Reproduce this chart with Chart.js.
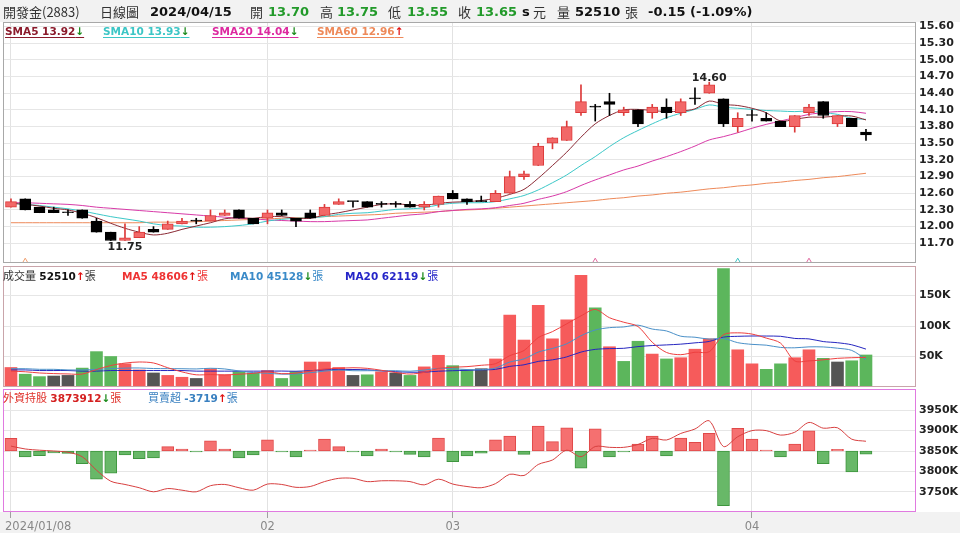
<!DOCTYPE html>
<html lang="zh-Hant">
<head>
<meta charset="utf-8">
<title>開發金(2883) 日線圖</title>
<script src="https://cdn.jsdelivr.net/npm/chart.js@4.4.1/dist/chart.umd.min.js"></script>
<style>
html,body{margin:0;padding:0;}
body{width:960px;height:533px;position:relative;overflow:hidden;background:#fff;font-family:"DejaVu Sans","Noto Sans CJK TC",sans-serif;}
.strip{position:absolute;left:0;width:960px;background:#f2f2f2;}
canvas{position:absolute;left:0;}
.t{position:absolute;white-space:nowrap;line-height:16px;height:16px;}
.cjk{font-family:"Noto Sans CJK TC",sans-serif;font-weight:normal;}
.b{font-weight:bold;font-family:"DejaVu Sans",sans-serif;}
.h{font-size:13px;top:3px;line-height:17px;height:17px;}
.g{color:#229a2a;}
.lg{font-size:10.5px;font-weight:bold;top:23px;text-decoration:underline;text-underline-offset:2px;}
.row{font-size:10.5px;}
.num{font-weight:bold;}
.zh{font-family:"Noto Sans CJK TC",sans-serif;font-size:11px;font-weight:normal;}
.dn{color:#1a8a1a;font-weight:bold;}
.up{color:#e01010;font-weight:bold;}
</style>
</head>
<body>
<div class="strip" style="top:0;height:22px"></div>
<div class="strip" style="top:512px;height:21px"></div>
<canvas id="cPrice" width="960" height="245" style="top:18px;width:960px;height:245px"></canvas>
<canvas id="cVol" width="960" height="121" style="top:266px;width:960px;height:121px"></canvas>
<canvas id="cFor" width="960" height="144" style="top:389px;width:960px;height:144px"></canvas>

<!-- header -->
<div class="t h cjk" style="left:3px;color:#333">開發金(2883)</div>
<div class="t h cjk" style="left:100px;color:#333">日線圖</div>
<div class="t h b" style="left:150px;color:#111">2024/04/15</div>
<div class="t h cjk" style="left:250px;color:#333">開</div>
<div class="t h b g" style="left:268px">13.70</div>
<div class="t h cjk" style="left:320px;color:#333">高</div>
<div class="t h b g" style="left:337px">13.75</div>
<div class="t h cjk" style="left:388px;color:#333">低</div>
<div class="t h b g" style="left:407px">13.55</div>
<div class="t h cjk" style="left:458px;color:#333">收</div>
<div class="t h b g" style="left:476px">13.65</div>
<div class="t h b" style="left:522px;color:#111">s</div>
<div class="t h cjk" style="left:533px;color:#333">元</div>
<div class="t h cjk" style="left:557px;color:#333">量</div>
<div class="t h b" style="left:575px;color:#111">52510</div>
<div class="t h cjk" style="left:625px;color:#333">張</div>
<div class="t h b" style="left:648px;color:#111">-0.15 (-1.09%)</div>

<!-- price legend -->
<div class="t lg" style="left:5px;color:#8b1a2b">SMA5 13.92<span class="dn">↓</span></div>
<div class="t lg" style="left:103px;color:#3cc6c6">SMA10 13.93<span class="dn">↓</span></div>
<div class="t lg" style="left:212px;color:#dd2aa0">SMA20 14.04<span class="dn">↓</span></div>
<div class="t lg" style="left:317px;color:#ee8a5a">SMA60 12.96<span class="up">↑</span></div>

<!-- volume legend -->
<div class="t row" style="left:3px;top:267px;color:#333"><span class="zh">成交量</span> <span class="num" style="color:#111">52510</span><span class="up">↑</span><span class="zh">張</span></div>
<div class="t row" style="left:122px;top:267px;color:#ee3333"><span class="num">MA5 48606</span><span class="up">↑</span><span class="zh">張</span></div>
<div class="t row" style="left:230px;top:267px;color:#3a8ac8"><span class="num">MA10 45128</span><span class="dn">↓</span><span class="zh">張</span></div>
<div class="t row" style="left:345px;top:267px;color:#2525c8"><span class="num">MA20 62119</span><span class="dn">↓</span><span class="zh">張</span></div>

<!-- foreign legend -->
<div class="t row" style="left:3px;top:389px;color:#e0302a"><span class="zh">外資持股</span> <span class="num" style="color:#d42020">3873912</span><span class="dn">↓</span><span class="zh">張</span></div>
<div class="t row" style="left:148px;top:389px;color:#3a80c0"><span class="zh">買賣超</span> <span class="num">-3719</span><span class="up">↑</span><span class="zh">張</span></div>

<script>
// ---------------- data ----------------
const dates = [
 '2024/01/08','2024/01/09','2024/01/10','2024/01/11','2024/01/12','2024/01/15','2024/01/16','2024/01/17','2024/01/18','2024/01/19',
 '2024/01/22','2024/01/23','2024/01/24','2024/01/25','2024/01/26','2024/01/29','2024/01/30','2024/01/31',
 '2024/02/01','2024/02/02','2024/02/05','2024/02/15','2024/02/16','2024/02/19','2024/02/20','2024/02/21','2024/02/22','2024/02/23',
 '2024/02/26','2024/02/27','2024/02/29',
 '2024/03/01','2024/03/04','2024/03/05','2024/03/06','2024/03/07','2024/03/08','2024/03/11','2024/03/12','2024/03/13','2024/03/14',
 '2024/03/15','2024/03/18','2024/03/19','2024/03/20','2024/03/21','2024/03/22','2024/03/25','2024/03/26','2024/03/27','2024/03/28','2024/03/29',
 '2024/04/01','2024/04/02','2024/04/03','2024/04/08','2024/04/09','2024/04/10','2024/04/11','2024/04/12','2024/04/15'
];
const open  = [12.35,12.50,12.35,12.30,12.25,12.30,12.10,11.90,11.75,11.80, 11.95,11.95,12.05,12.10,12.10,12.20,12.30,12.15,12.15,12.25,
               12.15,12.25,12.20,12.40,12.45,12.45,12.40,12.40,12.40,12.35, 12.40,12.60,12.50,12.45,12.45,12.60,12.90,13.10,13.50,13.55,
               14.05,14.15,14.25,14.05,14.10,14.05,14.15,14.05,14.30,14.40, 14.30,13.80,14.00,13.95,13.90,13.80,14.05,14.25,13.85,13.95, 13.70];
const high  = [12.50,12.50,12.35,12.35,12.30,12.30,12.15,11.90,12.05,12.00, 12.00,12.10,12.15,12.15,12.30,12.30,12.30,12.15,12.30,12.30,
               12.15,12.30,12.40,12.50,12.45,12.45,12.45,12.45,12.45,12.45, 12.55,12.65,12.50,12.55,12.65,13.00,13.00,13.50,13.60,13.90,
               14.55,14.20,14.40,14.15,14.10,14.20,14.30,14.30,14.50,14.60, 14.30,14.05,14.10,14.05,13.90,14.00,14.20,14.25,14.00,13.95, 13.75];
const low   = [12.35,12.30,12.25,12.25,12.20,12.15,11.90,11.75,11.75,11.80, 11.90,11.95,12.05,12.05,12.10,12.20,12.15,12.05,12.05,12.20,
               12.00,12.15,12.20,12.40,12.35,12.35,12.35,12.35,12.35,12.30, 12.35,12.50,12.40,12.45,12.45,12.60,12.85,13.10,13.40,13.55,
               14.00,13.90,14.00,14.00,13.80,13.95,13.95,14.00,14.20,14.40, 13.80,13.70,13.90,13.90,13.80,13.70,14.00,13.95,13.80,13.80, 13.55];
const close = [12.45,12.30,12.25,12.25,12.25,12.15,11.90,11.75,11.80,11.90, 11.90,12.05,12.10,12.10,12.20,12.25,12.15,12.05,12.25,12.20,
               12.10,12.15,12.35,12.45,12.45,12.35,12.40,12.40,12.35,12.40, 12.55,12.50,12.45,12.45,12.60,12.90,12.95,13.45,13.60,13.80,
               14.25,14.15,14.20,14.10,13.85,14.15,14.05,14.25,14.30,14.55, 13.85,13.95,14.00,13.90,13.80,14.00,14.15,14.00,14.00,13.80, 13.65];

const sma5  = [12.42,12.40,12.37,12.33,12.30,12.24,12.16,12.06,11.97,11.90, 11.85,11.88,11.95,12.01,12.07,12.14,12.16,12.15,12.18,12.18,
               12.15,12.15,12.21,12.25,12.30,12.35,12.40,12.41,12.39,12.38, 12.42,12.44,12.45,12.47,12.51,12.58,12.67,12.87,13.10,13.34,
               13.61,13.85,14.00,14.10,14.11,14.09,14.07,14.08,14.12,14.26, 14.20,14.18,14.13,14.05,13.90,13.93,13.97,13.97,13.99,13.99, 13.92];
const sma10 = [12.42,12.40,12.38,12.35,12.32,12.28,12.23,12.18,12.14,12.10, 12.05,12.02,12.01,11.99,11.99,12.00,12.02,12.05,12.10,12.13,
               12.15,12.16,12.18,12.22,12.24,12.25,12.28,12.31,12.32,12.34, 12.39,12.42,12.43,12.43,12.45,12.50,12.56,12.66,12.79,12.93,
               13.10,13.26,13.44,13.60,13.73,13.85,13.96,14.04,14.11,14.19, 14.15,14.13,14.11,14.09,14.08,14.07,14.08,14.05,14.02,13.95, 13.93];
const sma20 = [12.43,12.43,12.42,12.41,12.40,12.38,12.35,12.33,12.31,12.29, 12.27,12.25,12.23,12.21,12.19,12.17,12.15,12.14,12.12,12.11,
               12.10,12.09,12.09,12.10,12.11,12.12,12.15,12.18,12.21,12.23, 12.27,12.29,12.31,12.32,12.34,12.38,12.42,12.49,12.55,12.63,
               12.74,12.84,12.93,13.02,13.09,13.18,13.26,13.35,13.45,13.56, 13.62,13.69,13.77,13.84,13.90,13.96,14.02,14.05,14.07,14.07, 14.04];
const sma60 = [12.07,12.07,12.07,12.07,12.07,12.07,12.07,12.07,12.07,12.07, 12.08,12.08,12.08,12.09,12.10,12.11,12.12,12.13,12.14,12.15,
               12.16,12.17,12.18,12.19,12.20,12.21,12.22,12.24,12.25,12.26, 12.27,12.29,12.30,12.31,12.33,12.35,12.37,12.39,12.41,12.43,
               12.45,12.47,12.50,12.52,12.55,12.57,12.60,12.62,12.65,12.68, 12.70,12.73,12.75,12.78,12.80,12.83,12.85,12.88,12.90,12.93, 12.96];

// volume, thousand 張
const volume = [32,21,17,18,19,31,58,50,38,28, 23,19,16,14,30,20,25,23,27,14, 25,41,41,32,19,20,25,23,19,33,
                52,35,28,30,46,118,77,134,79,110, 183,130,66,42,75,54,46,48,62,79, 194,61,38,29,38,48,61,47,41,43, 52.51];
const volMa5  = [26,25,23,22,21.4,21.2,28.6,35.2,39.2,41.0, 39.4,31.6,24.8,20.0,20.4,19.8,21.0,22.4,25.0,21.8,
                 22.8,26.0,29.6,30.6,31.6,30.6,27.4,23.8,21.2,24.0, 30.4,32.4,33.4,35.6,38.2,51.4,59.8,81.0,90.8,103.6,
                 116.6,127.2,113.6,106.2,99.2,73.4,56.6,53.0,57.0,57.8, 85.8,88.8,86.8,80.2,72.0,42.8,42.8,44.6,47.0,48.0, 48.61];
const volMa10 = [30,30,29,29,28,28,29,30,31,31.2, 30.3,30.1,30.0,29.6,30.7,29.6,26.3,23.6,22.5,21.1,
                 21.3,23.5,26.0,27.8,26.7,26.7,26.7,26.7,25.9,27.8, 30.5,29.9,28.6,28.4,31.1,40.9,46.1,57.2,63.2,70.9,
                 84.0,93.5,97.3,98.5,101.4,95.0,91.9,83.3,81.6,78.5, 79.6,72.7,69.9,68.6,64.9,64.3,65.8,65.7,63.6,60.0, 45.13];
const volMa20 = [28,28,27,27,27,26,26,27,27,27, 27,27,27,26,26,26,26,26,26,26.15,
                 25.8,26.8,28.0,28.7,28.7,28.15,26.5,25.15,24.2,24.45, 25.9,26.7,27.3,28.1,28.9,33.8,36.4,41.95,44.55,49.35,
                 57.25,61.7,62.95,63.45,66.25,67.95,69.0,70.25,72.4,74.7, 81.8,83.1,83.6,83.55,83.15,79.65,78.85,74.5,72.6,69.25, 62.12];

// foreign investors, thousand 張
const foreignHold = [3862,3855,3852,3850,3847,3836,3803,3776,3768,3760, 3750,3758,3754,3750,3765,3768,3760,3754,3769,3768,
                     3761,3763,3775,3783,3783,3775,3777,3777,3775,3767, 3781,3769,3763,3760,3770,3793,3790,3817,3828,3852,
                     3836,3861,3859,3859,3866,3881,3877,3893,3904,3924, 3861,3885,3900,3900,3889,3896,3920,3906,3907,3879, 3873.912];
const foreignNet  = [14.8,-7,-5.5,-2.3,-3,-15,-33,-26,-4.7,-9, -8,5,2.3,-0.8,12,2.3,-8,-4.7,13,-1,
                     -7,1,14,5,-0.8,-5.8,2.3,-0.8,-4,-7, 15,-12.5,-5.8,-2.7,13,17.5,-4,29,11,27,
                     -20,26,-7,-1,8,17.5,-5.8,15,10,20.6, -64,26.5,14,0.5,-7,8,23.7,-15,2,-24.5, -3.719];

const priceTicks = [11.70,12.00,12.30,12.60,12.90,13.20,13.50,13.80,14.10,14.40,14.70,15.00,15.30,15.60];
const volTicks   = [50,100,150];
const holdTicks  = [3750,3800,3850,3900,3950];
const markerIdx  = [1,41,51,56];

// ---------------- styles / scales ----------------
const PRICE_MIN = 11.345, PRICE_MAX = 15.683;
const VOL_MIN = 0, VOL_MAX = 198.4;
const HOLD_MIN = 3700.5, HOLD_MAX = 4002;
const NET_MIN = -71.4, NET_MAX = 72.5;
const X_MIN = -0.56, X_MAX = 63.51;
const markerColors = ['#f0a070','#e06aa0','#40c4c4','#e06aa0'];

const RED_FILL = '#f26868', RED_LINE = '#dc3a3a', BLACK = '#000000';
const VOL_UP = '#f65b5b', VOL_DOWN = '#5cb65c', VOL_FLAT = '#555555';

Chart.defaults.font.family = '"DejaVu Sans", sans-serif';
Chart.defaults.animation = false;
Chart.defaults.plugins.legend.display = false;
Chart.defaults.plugins.tooltip.enabled = false;

const monthIdx = dates.map((d, i) => (i === 0 || d.slice(5, 7) !== dates[i - 1].slice(5, 7)) ? i : -1).filter(i => i >= 0);
const pts = arr => arr.map((v, i) => ({x: i, y: v}));

function noPad(s) { s.paddingTop = 0; s.paddingBottom = 0; s.paddingLeft = 0; s.paddingRight = 0; }
function xAxis(h) {
  return {
    type: 'linear', min: X_MIN, max: X_MAX, bounds: 'data', offset: false,
    afterBuildTicks: s => { s.ticks = monthIdx.map(v => ({value: v})); },
    afterFit: s => { s.height = h; noPad(s); },
    ticks: {display: false},
    border: {display: false},
    grid: {offset: false, color: '#e2e2e2', lineWidth: 1, drawTicks: h > 0, tickLength: 6, tickColor: '#a0a0a0'}
  };
}
function yAxis(min, max, ticks, fmt) {
  return {
    position: 'right', min, max, bounds: 'data',
    afterBuildTicks: s => { s.ticks = ticks.map(v => ({value: v})); },
    afterFit: s => { s.width = 44; noPad(s); },
    border: {display: false},
    grid: {color: '#e6e6e6', drawTicks: false},
    ticks: {padding: 3, color: '#222', font: {size: 11, weight: 'bold'}, callback: fmt}
  };
}
const panelPlugin = {
  id: 'panel',
  beforeDraw(chart) {
    const a = chart.chartArea, c = chart.ctx;
    c.save(); c.fillStyle = '#ffffff';
    c.fillRect(a.left, a.top, a.right - a.left, a.bottom - a.top); c.restore();
  },
  afterDraw(chart, args, opts) {
    const a = chart.chartArea, c = chart.ctx;
    c.save(); c.strokeStyle = opts.color; c.lineWidth = 1;
    c.strokeRect(Math.round(a.left) + 0.5, Math.round(a.top) + 0.5,
                 Math.round(a.right - a.left) - 1, Math.round(a.bottom - a.top) - 1);
    c.restore();
  }
};
const lineDs = (arr, color, order, axis) => ({
  type: 'line', data: pts(arr), borderColor: color, borderWidth: 1, pointRadius: 0,
  tension: 0.3, order, yAxisID: axis || 'y'
});

// ---------------- price chart ----------------
const upCandle = close.map((c, i) => c > open[i]);
const extremePlugin = {
  id: 'extreme',
  afterDatasetsDraw(chart) {
    const xs = chart.scales.x, ys = chart.scales.y, c = chart.ctx;
    let iMax = 0, iMin = 0;
    high.forEach((h, i) => { if (h > high[iMax]) iMax = i; });
    low.forEach((l, i) => { if (l <= low[iMin]) iMin = i; });
    c.save();
    c.font = 'bold 11px "DejaVu Sans"'; c.fillStyle = '#222'; c.textAlign = 'center'; c.textBaseline = 'alphabetic';
    c.fillText(high[iMax].toFixed(2), xs.getPixelForValue(iMax), ys.getPixelForValue(high[iMax]) - 1);
    c.fillText(low[iMin].toFixed(2), xs.getPixelForValue(iMin), ys.getPixelForValue(low[iMin]) + 9.5);
    c.restore();
  }
};
new Chart(document.getElementById('cPrice'), {
  type: 'bar',
  data: {datasets: [
    {type: 'bar', data: open.map((o, i) => ({x: i, y: [o, close[i]]})),
     backgroundColor: upCandle.map(u => u ? RED_FILL : BLACK), borderColor: upCandle.map(u => u ? RED_LINE : BLACK),
     borderWidth: 1, borderSkipped: false, barThickness: 11, minBarLength: 1, grouped: false, order: 0},
    {type: 'bar', data: low.map((l, i) => ({x: i, y: [l, high[i]]})),
     backgroundColor: upCandle.map(u => u ? RED_LINE : BLACK), borderWidth: 0, barThickness: 1, grouped: false, order: 1},
    lineDs(sma5, '#8b2a35', 2), lineDs(sma10, '#3cc8c8', 2), lineDs(sma20, '#d83aa8', 2), lineDs(sma60, '#ee8a5a', 2),
    {type: 'line', showLine: false, data: markerIdx.map(i => ({x: i, y: PRICE_MIN + 0.015})),
     pointStyle: 'triangle', pointRadius: 4, pointBorderWidth: 1, pointBorderColor: markerColors,
     pointBackgroundColor: 'rgba(255,255,255,0)', order: 0}
  ]},
  options: {
    responsive: false, layout: {autoPadding: false, padding: {left: 3, right: 0, top: 4, bottom: 0}},
    scales: {x: xAxis(0), y: yAxis(PRICE_MIN, PRICE_MAX, priceTicks, v => v.toFixed(2))},
    plugins: {panel: {color: '#a8a8a8'}}
  },
  plugins: [panelPlugin, extremePlugin]
});

// ---------------- volume chart ----------------
const volColor = close.map((c, i) => i === 0 ? VOL_UP : (c > close[i - 1] ? VOL_UP : (c < close[i - 1] ? VOL_DOWN : VOL_FLAT)));
new Chart(document.getElementById('cVol'), {
  type: 'bar',
  data: {datasets: [
    {type: 'bar', data: pts(volume), backgroundColor: volColor, borderWidth: 0, barThickness: 12, grouped: false, order: 1},
    lineDs(volMa5, '#ee4040', 0), lineDs(volMa10, '#4a90c8', 0), lineDs(volMa20, '#2626c0', 0)
  ]},
  options: {
    responsive: false, layout: {autoPadding: false, padding: {left: 3, right: 0, top: 0, bottom: 0}},
    scales: {x: xAxis(0), y: yAxis(VOL_MIN, VOL_MAX, volTicks, v => v + 'K')},
    plugins: {panel: {color: '#c9a4aa'}}
  },
  plugins: [panelPlugin]
});

// ---------------- foreign investors chart ----------------
const dateLabelPlugin = {
  id: 'dateLabels',
  afterDraw(chart) {
    const xs = chart.scales.x, a = chart.chartArea, c = chart.ctx;
    c.save(); c.font = '11.5px "DejaVu Sans"'; c.fillStyle = '#888'; c.textBaseline = 'middle';
    monthIdx.forEach(i => {
      if (i === 0) { c.textAlign = 'left'; c.fillText(dates[0], a.left + 2, a.bottom + 15); }
      else { c.textAlign = 'center'; c.fillText(dates[i].slice(5, 7), xs.getPixelForValue(i), a.bottom + 15); }
    });
    c.restore();
  }
};
new Chart(document.getElementById('cFor'), {
  type: 'bar',
  data: {datasets: [
    {type: 'bar', yAxisID: 'y2', data: pts(foreignNet),
     backgroundColor: foreignNet.map(v => v >= 0 ? '#f57070' : '#68b868'),
     borderColor: foreignNet.map(v => v >= 0 ? '#e04848' : '#3e963e'),
     borderWidth: 1, borderSkipped: false, barThickness: 12, minBarLength: 1, grouped: false, order: 1},
    lineDs(foreignHold, '#d84040', 0, 'y')
  ]},
  options: {
    responsive: false, layout: {autoPadding: false, padding: {left: 3, right: 0, top: 0, bottom: 0}},
    scales: {
      x: xAxis(21),
      y: yAxis(HOLD_MIN, HOLD_MAX, holdTicks, v => v + 'K'),
      y2: {display: false, min: NET_MIN, max: NET_MAX}
    },
    plugins: {panel: {color: '#e07ae0'}}
  },
  plugins: [panelPlugin, dateLabelPlugin]
});
</script>
</body>
</html>
